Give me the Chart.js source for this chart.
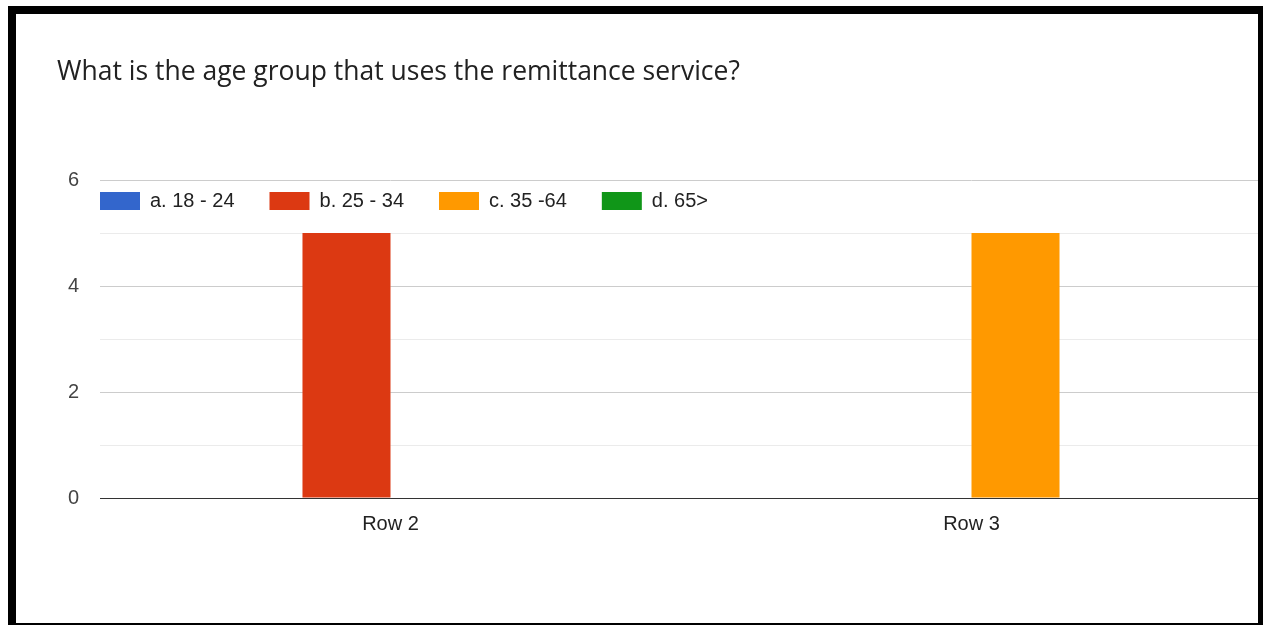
<!DOCTYPE html>
<html lang="en">

<head>
  <meta charset="UTF-8">
  <title>Age group chart</title>
  <script src="https://cdn.jsdelivr.net/npm/chart.js"></script>
  <style>
    body {
      margin: 0;
      padding: 0;
      background: #ffffff;
    }

    .wrap {
      position: relative;
      width: 1268px;
      height: 626px;
      overflow: hidden;
    }

    .frame {
      position: absolute;
      left: 8px;
      top: 6px;
      width: 1242px;
      height: 609px;
      border-top: 8px solid #000;
      border-left: 8px solid #000;
      border-right: 5px solid #000;
      border-bottom: 2px solid #000;
      pointer-events: none;
    }
  </style>
</head>

<body>
  <div class="wrap">
    <canvas id="ageChart" width="1268" height="626"></canvas>
    <div class="frame"></div>
  </div>

  <script>
    // chart data
    const categories = ["Row 2", "Row 3"];
    const seriesNames = ["a. 18 - 24", "b. 25 - 34", "c. 35 -64", "d. 65>"];
    const age18to24 = [0, 0];
    const age25to34 = [5, 0];
    const age35to64 = [0, 5];
    const age65plus = [0, 0];
    const yTickLabels = [0, 2, 4, 6];

    const colors = ["#3366cc", "#dc3912", "#ff9900", "#109618"];
    const allSeries = [age18to24, age25to34, age35to64, age65plus];

    const sans = "'Liberation Sans', Arial, sans-serif";
    const legendPad = 35;

    // legend takes almost no room at the top, then gets moved into the plot
    const legendShift = {
      id: 'legendShift',
      afterLayout(chart) {
        const area = chart.chartArea;
        const lg = chart.legend;
        lg.left = area.left - legendPad;
        lg.right = area.right;
        lg.top = area.top + 11 - legendPad;
        lg.bottom = lg.top + 120;
        lg.width = lg.right - lg.left;
        lg.height = 120;
      }
    };

    const ctx = document.getElementById("ageChart").getContext("2d");
    new Chart(ctx, {
      type: "bar",
      data: {
        labels: categories,
        datasets: seriesNames.map((name, i) => ({
          label: name,
          data: allSeries[i],
          backgroundColor: colors[i],
          borderWidth: 0,
          categoryPercentage: 0.606,
          barPercentage: 1,
        })),
      },
      options: {
        responsive: false,
        animation: false,
        layout: {
          padding: { left: 57, right: 6, top: 0, bottom: 75 },
        },
        scales: {
          x: {
            grid: { display: false, drawTicks: false },
            border: { color: "#333333", width: 1 },
            ticks: {
              color: "#222222",
              padding: 14.5,
              font: { family: sans, size: 20 },
            },
          },
          y: {
            min: 0,
            max: 6,
            afterFit(scale) { scale.width = 43; },
            border: { display: false },
            grid: {
              drawTicks: false,
              color: (c) => {
                const v = c.tick.value;
                if (v === 0) return "#333333";
                return yTickLabels.includes(v) ? "#cccccc" : "#ebebeb";
              },
            },
            ticks: {
              stepSize: 1,
              padding: 21,
              color: "#444444",
              font: { family: sans, size: 20 },
              callback: (v) => yTickLabels.includes(v) ? v : "",
            },
          },
        },
        plugins: {
          title: {
            display: true,
            text: "What is the age group that uses the remittance service?",
            align: "start",
            color: "#212121",
            font: { family: "'Open Sans', sans-serif", size: 26.5, weight: "normal" },
            padding: { top: 57, bottom: 90.2 },
          },
          legend: {
            position: "top",
            align: "start",
            maxHeight: 1,
            labels: {
              boxWidth: 40,
              boxHeight: 18,
              padding: legendPad,
              color: "#222222",
              font: { family: sans, size: 20 },
            },
          },
          tooltip: { enabled: false },
        },
      },
      plugins: [legendShift],
    });
  </script>
</body>

</html>
